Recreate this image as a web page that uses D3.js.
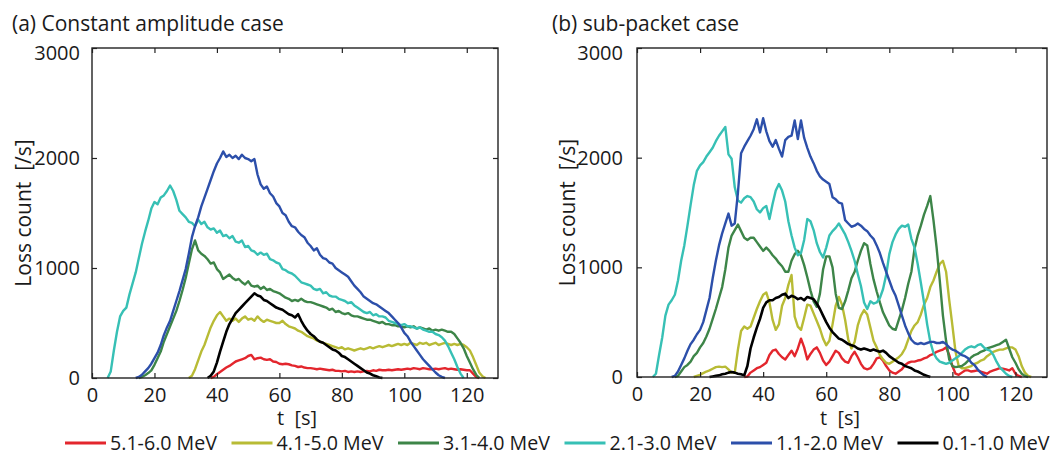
<!DOCTYPE html>
<html><head><meta charset="utf-8">
<script src="https://cdn.jsdelivr.net/npm/d3@7"></script>
<style>
body{margin:0;background:#fff}
svg text{font-family:"Open Sans","Liberation Sans",sans-serif;fill:#1a1a1a;white-space:pre}
</style>
</head><body>
<svg id="chart" width="1051" height="460"></svg>
<script>
// ---------- data ----------
const seriesNames  = ["5.1-6.0 MeV","4.1-5.0 MeV","3.1-4.0 MeV","2.1-3.0 MeV","1.1-2.0 MeV","0.1-1.0 MeV"];
const seriesColors = ["#e3262d","#b8bb35","#3d8548","#37c0b5","#2c4faa","#000000"];
const xTicks = [0,20,40,60,80,100,120];
const yTicks = [0,1000,2000,3000];
const panelTitles = ["(a) Constant amplitude case","(b) sub-packet case"];

// Panel (a): first time [s] and loss counts [/s] at 1 s steps
const aRedStart = 38;
const aRed = [0,10,35,55,75,95,110,130,150,160,170,180,200,210,170,180,185,170,165,170,150,145,130,125,130,125,115,110,100,105,95,90,90,85,80,85,80,75,70,75,65,65,60,65,55,60,55,60,55,60,65,60,70,65,75,70,70,75,70,75,80,75,80,85,80,90,85,80,90,85,80,80,85,80,85,90,80,85,80,75,80,75,70,70,40,10,0];
const aYelStart = 31;
const aYel = [0,20,80,160,240,300,380,460,520,570,600,560,520,540,520,540,510,540,560,530,540,520,560,530,510,530,520,510,500,500,520,490,470,460,450,430,420,400,380,370,360,340,330,320,310,300,290,280,270,280,260,270,260,250,260,270,260,270,280,270,280,290,280,290,300,290,300,310,300,310,300,320,310,300,320,310,320,300,310,320,300,310,320,310,300,310,300,310,300,280,250,190,120,50,15,0];
const aGrnStart = 15;
const aGrn = [0,10,25,45,70,120,180,240,330,400,470,540,610,700,800,910,1040,1170,1250,1160,1130,1110,1080,1040,1050,990,960,900,920,940,910,890,900,870,850,880,840,830,840,810,830,800,810,790,780,770,750,730,720,700,710,700,720,700,690,690,680,670,660,650,640,620,630,600,610,590,580,590,570,560,560,550,540,530,530,520,510,500,510,490,490,480,480,470,470,460,470,460,470,450,460,450,440,450,430,440,430,440,430,420,420,400,360,320,270,200,140,80,30,0];
const aCyaStart = 5;
const aCya = [0,60,250,420,560,610,640,760,860,960,1090,1220,1330,1430,1540,1600,1580,1640,1660,1700,1750,1700,1620,1520,1490,1460,1420,1410,1380,1440,1400,1420,1370,1350,1360,1320,1340,1290,1300,1270,1290,1240,1230,1250,1190,1200,1160,1150,1120,1140,1120,1130,1080,1070,1050,1040,990,980,960,950,930,900,870,860,850,840,810,800,810,770,780,750,740,740,720,710,700,680,690,660,640,620,600,590,600,570,580,560,560,550,520,510,500,490,480,490,470,470,460,450,460,440,430,420,420,400,390,370,340,290,230,170,100,40,0];
const aBluStart = 14;
const aBlu = [0,10,30,60,90,130,180,230,300,390,460,520,610,700,790,890,990,1130,1280,1380,1460,1560,1640,1720,1800,1880,1950,2000,2060,2010,2030,2000,2020,1990,2030,2000,1990,1970,1990,1850,1760,1720,1740,1680,1650,1590,1560,1500,1480,1420,1380,1370,1330,1300,1280,1230,1200,1160,1180,1120,1090,1080,1050,1040,1000,980,960,940,920,880,840,810,780,740,720,700,680,670,650,630,610,590,560,530,500,460,410,380,330,290,250,210,170,140,110,80,50,25,10,0];
const aBlkStart = 37;
const aBlk = [0,20,60,140,240,330,420,490,540,590,620,650,680,710,740,770,750,740,710,700,680,660,640,630,620,600,580,570,550,580,520,470,430,400,380,350,330,320,300,280,260,250,230,200,190,170,150,130,110,90,70,50,40,25,15,5,0];

// Panel (b)
const bRedStart = 34;
const bRed = [0,5,40,60,80,90,110,130,200,240,250,210,180,160,200,240,190,260,350,270,160,210,250,270,220,150,110,140,190,240,220,170,140,130,190,230,180,120,80,70,80,120,170,180,150,100,60,40,30,50,70,110,130,140,140,150,155,170,180,200,210,230,240,250,270,200,100,30,20,40,60,60,50,55,60,50,40,30,50,60,70,80,75,70,60,80,30,10,0];
const bYelStart = 18;
const bYel = [0,10,20,35,50,60,75,90,95,90,95,70,40,40,250,420,460,440,460,540,620,690,750,770,680,520,430,480,650,720,840,930,550,460,430,540,660,650,580,510,440,350,290,330,480,650,730,660,520,340,260,320,470,560,610,570,450,330,270,200,160,130,120,140,160,180,210,260,340,420,470,500,570,660,720,820,880,960,1030,1060,960,700,470,230,100,80,80,90,100,120,130,150,160,190,210,230,240,250,250,260,270,270,250,190,100,40,10,0];
const bGrnStart = 12;
const bGrn = [0,10,50,90,110,140,190,220,270,310,370,440,530,620,720,820,980,1180,1290,1340,1390,1330,1270,1250,1270,1270,1230,1190,1150,1180,1150,1110,1080,1040,1010,960,960,1060,1120,1150,1110,1020,910,790,690,640,760,980,1100,1100,1000,760,630,620,690,790,900,960,1060,1150,1220,1200,1030,890,780,680,590,530,470,440,430,520,610,720,850,960,1170,1290,1380,1480,1560,1650,1430,1180,880,560,330,160,100,90,95,100,120,150,180,200,210,230,240,260,270,280,290,300,320,340,260,180,130,70,30,10,0];
const bCyaStart = 5;
const bCya = [0,30,200,360,560,660,700,750,880,1060,1200,1380,1570,1750,1880,1930,1960,2010,2050,2090,2150,2200,2240,2280,2030,1990,1730,1610,1590,1630,1650,1640,1600,1530,1500,1540,1560,1440,1580,1700,1760,1700,1600,1420,1290,1180,1110,1130,1250,1440,1420,1340,1220,1140,1090,1180,1290,1330,1360,1400,1350,1300,1230,1150,1060,940,830,680,620,690,670,680,720,800,930,1120,1230,1300,1350,1380,1370,1390,1260,1180,1030,860,680,480,320,220,170,140,130,120,130,150,170,190,220,250,270,280,270,290,300,270,250,240,200,140,90,60,30,10,0];
const bBluStart = 11;
const bBlu = [0,10,50,110,170,240,300,340,390,430,500,610,720,900,1060,1200,1310,1400,1490,1380,1400,1680,2040,2100,2150,2200,2260,2350,2230,2360,2240,2150,2100,2160,2080,2010,2160,2190,2200,2340,2170,2340,2180,2090,2010,1950,1880,1830,1800,1780,1760,1640,1620,1590,1580,1430,1400,1370,1380,1400,1380,1350,1330,1290,1260,1200,1130,1040,960,880,800,740,650,560,470,400,340,310,300,310,300,310,320,320,310,310,320,300,270,250,240,220,200,190,170,130,110,70,40,15,0];
const bBlkStart = 23;
const bBlk = [0,5,10,15,25,30,40,45,40,30,25,15,100,260,360,450,530,630,680,700,700,720,730,750,760,720,740,730,710,720,700,730,720,710,670,620,560,500,450,410,380,350,340,320,300,290,280,260,250,260,250,240,250,240,230,240,220,190,170,150,130,120,100,90,80,60,50,35,20,10,0];

const panelData = [
  [[aRedStart,aRed],[aYelStart,aYel],[aGrnStart,aGrn],[aCyaStart,aCya],[aBluStart,aBlu],[aBlkStart,aBlk]],
  [[bRedStart,bRed],[bYelStart,bYel],[bGrnStart,bGrn],[bCyaStart,bCya],[bBluStart,bBlu],[bBlkStart,bBlk]]
];

// ---------- drawing ----------
const svg = d3.select("#chart");
const panels = [
  {left:92, right:498, top:48, bottom:378, titleX:12, ylabX:31, yPad:12, xlabX:297},
  {left:637, right:1047, top:48, bottom:377, titleX:552, ylabX:575, yPad:14, xlabX:840}
];

panels.forEach((p, pi) => {
  const x = d3.scaleLinear().domain([0,130]).range([p.left,p.right]);
  const y = d3.scaleLinear().domain([0,3000]).range([p.bottom,p.top]);
  const g = svg.append("g");

  // title
  g.append("text").attr("x",p.titleX).attr("y",31).attr("font-size",21).text(panelTitles[pi]);

  // y label
  g.append("text")
    .attr("transform",`translate(${p.ylabX},${(p.top+p.bottom)/2}) rotate(-90)`)
    .attr("text-anchor","middle").attr("font-size",21)
    .text("Loss count  [/s]");

  // x label
  g.append("text").attr("x",p.xlabX).attr("y",425)
    .attr("text-anchor","middle").attr("font-size",20).text("t  [s]");

  // data lines
  const line = d3.line().x(d=>x(d[0])).y(d=>y(d[1]));
  const clipId = "clip"+pi;
  g.append("clipPath").attr("id",clipId).append("rect")
    .attr("x",p.left).attr("y",p.top).attr("width",p.right-p.left).attr("height",p.bottom-p.top+2);
  const lines = g.append("g").attr("clip-path",`url(#${clipId})`);
  panelData[pi].forEach((s, si) => {
    const pts = s[1].map((v,i)=>[s[0]+i, v]);
    lines.append("path").datum(pts).attr("d",line)
      .attr("fill","none").attr("stroke",seriesColors[si])
      .attr("stroke-width", si===5 ? 2.6 : 2.4)
      .attr("stroke-linejoin","round");
  });

  // axes (inward ticks, box)
  const tickFmt = d3.format("d");
  const ax = g.append("g").attr("transform",`translate(0,${p.bottom})`)
    .call(d3.axisBottom(x).tickValues(xTicks).tickSize(-5).tickPadding(10).tickFormat(tickFmt));
  const at = g.append("g").attr("transform",`translate(0,${p.top})`)
    .call(d3.axisTop(x).tickValues(xTicks).tickSize(-5).tickFormat(""));
  const al = g.append("g").attr("transform",`translate(${p.left},0)`)
    .call(d3.axisLeft(y).tickValues(yTicks).tickSize(-5).tickPadding(p.yPad).tickFormat(tickFmt));
  const ar = g.append("g").attr("transform",`translate(${p.right},0)`)
    .call(d3.axisRight(y).tickValues(yTicks).tickSize(-5).tickFormat(""));
  [ax,at,al,ar].forEach(a=>{
    a.attr("font-size",20).attr("font-family",null);
    a.select(".domain").remove();
    a.selectAll(".tick line").attr("stroke","#222").attr("stroke-width",1.2);
    a.selectAll(".tick text").attr("font-size",20).attr("fill","#1a1a1a");
  });
  // top y label sits slightly lower, as in the reference
  al.selectAll(".tick text").filter(d=>d===3000).attr("y",5);
  g.append("rect").attr("x",p.left).attr("y",p.top)
    .attr("width",p.right-p.left).attr("height",p.bottom-p.top)
    .attr("fill","none").attr("stroke","#222").attr("stroke-width",1.4);
});

// legend
const lg = svg.append("g");
seriesNames.forEach((name,i)=>{
  const x0 = 65 + i*166.5;
  lg.append("line").attr("x1",x0).attr("x2",x0+41).attr("y1",443).attr("y2",443)
    .attr("stroke",seriesColors[i]).attr("stroke-width",3);
  lg.append("text").attr("x",x0+45).attr("y",450)
    .attr("font-size",20)
    .attr("textLength",107).attr("lengthAdjust","spacingAndGlyphs")
    .text(name);
});
</script>
</body></html>
